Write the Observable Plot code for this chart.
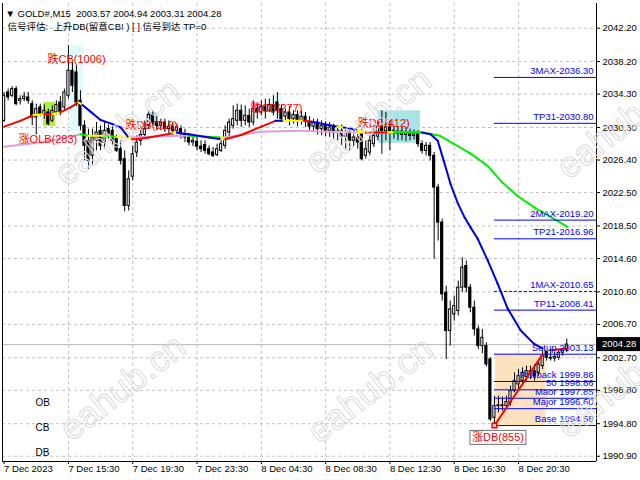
<!DOCTYPE html>
<html><head><meta charset="utf-8">
<script src="https://cdn.jsdelivr.net/npm/d3@7"></script>
<script src="https://cdn.jsdelivr.net/npm/@observablehq/plot@0.6"></script>
<style>
body{margin:0;background:#fff;}
#chart{position:relative;width:640px;height:480px;overflow:hidden;}
</style></head><body><div id="chart"></div>
<script>
// ---------- DATA (GOLD#, M15 bars, index 0 = 7 Dec 11:30) ----------
const opens=[2031.1,2034.5,2034.1,2034.9,2033.5,2033.7,2033.9,2033.1,2031.5,2032.7,
2031.9,2032.1,2031.1,2032.1,2033.3,2032.7,2034.1,2037.1,2036.9,2033.5,
2030.5,2028.7,2026.9,2028.7,2029.9,2028.5,2030.1,2029.9,2028.9,2027.7,
2026.5,2020.9,2024.4,2027.3,2028.7,2029.4,2030.5,2031.8,2030.9,2030.5,
2030.9,2030.1,2030.4,2029.9,2030.1,2029.5,2029.1,2028.5,2028.6,2028.0,
2028.2,2027.7,2027.3,2027.0,2027.5,2028.1,2029.7,2030.5,2031.1,2032.3,
2031.1,2031.7,2030.9,2032.5,2032.1,2032.8,2032.3,2033.0,2033.3,2032.5,
2031.6,2032.1,2031.3,2031.8,2031.1,2031.6,2031.0,2030.4,2030.9,2030.1,
2030.5,2029.9,2030.3,2029.7,2029.9,2029.2,2029.7,2028.7,2029.1,2029.5,
2026.9,2027.3,2028.3,2029.2,2030.4,2029.9,2030.3,2029.7,2029.5,2029.8,
2029.4,2029.7,2029.3,2029.5,2028.3,2027.5,2028.1,2026.9,2023.1,2018.9,
2010.5,2005.9,2007.9,2008.3,2011.1,2013.7,2011.1,2008.7,2006.1,2004.1,
2004.1,2002.5,1995.5,1996.9,1997.0,1996.9,1997.3,1998.7,1999.5,1999.9,
2000.4,2000.9,2001.1,2000.9,2001.7,2003.5,2002.7,2002.6,2002.7,2003.3,
2003.57];
const highs=[2034.5,2034.9,2035.2,2035.2,2034.1,2034.5,2034.5,2033.5,2033.1,2033.1,
2033.0,2032.5,2032.9,2033.5,2034.0,2034.9,2040.1,2038.1,2037.7,2034.7,
2031.1,2030.1,2030.1,2030.9,2030.5,2030.9,2030.6,2030.4,2029.4,2028.7,
2027.5,2025.1,2028.1,2029.3,2030.5,2031.1,2032.3,2032.3,2031.7,2031.3,
2031.3,2031.1,2030.9,2030.7,2030.5,2030.1,2029.5,2029.1,2029.2,2028.7,
2028.7,2028.1,2027.9,2028.3,2028.7,2030.5,2031.3,2032.9,2033.1,2033.0,
2032.9,2032.5,2033.5,2033.1,2033.5,2033.7,2033.7,2034.1,2034.5,2033.0,
2032.5,2032.8,2032.3,2032.3,2032.3,2032.1,2031.6,2031.3,2031.3,2031.1,
2031.0,2030.9,2030.7,2030.5,2030.6,2030.3,2030.1,2029.9,2029.9,2030.1,
2028.7,2029.3,2030.5,2031.1,2032.3,2032.1,2031.1,2030.5,2030.4,2030.4,
2030.3,2030.1,2030.0,2029.9,2028.7,2028.5,2028.5,2027.3,2023.5,2019.3,
2011.3,2009.5,2010.1,2011.9,2014.7,2014.3,2011.5,2009.5,2006.5,2006.1,
2004.5,2002.7,1998.1,1998.1,1998.0,1998.1,1999.3,2000.9,2001.3,2001.5,
2001.7,2001.7,2001.9,2002.4,2003.5,2003.7,2003.5,2003.4,2003.6,2003.8,
2004.94];
const lows=[2030.9,2033.5,2033.9,2032.9,2033.0,2033.4,2033.1,2030.5,2029.4,2031.6,
2031.3,2030.5,2030.9,2031.8,2031.7,2032.3,2033.7,2034.5,2032.8,2029.9,
2026.3,2025.3,2025.7,2027.5,2027.5,2027.7,2028.9,2028.1,2027.3,2025.8,
2020.2,2020.3,2023.9,2026.7,2028.1,2029.1,2030.1,2030.5,2029.9,2029.9,
2029.7,2029.5,2029.3,2029.4,2028.9,2028.5,2028.1,2028.0,2027.5,2027.3,
2027.1,2026.9,2026.7,2026.8,2027.3,2027.7,2028.9,2030.1,2030.5,2030.3,
2030.5,2030.3,2030.5,2031.3,2031.7,2031.3,2032.1,2031.7,2031.3,2030.9,
2031.1,2030.5,2030.7,2030.4,2030.6,2030.3,2029.9,2029.7,2029.4,2029.3,
2029.2,2029.1,2028.9,2028.7,2028.1,2027.7,2027.5,2028.0,2027.7,2026.3,
2026.5,2026.9,2027.9,2028.7,2027.1,2028.7,2027.5,2028.9,2028.7,2028.7,
2028.6,2028.7,2028.8,2027.9,2027.1,2026.9,2026.3,2014.5,2016.7,2009.5,
2002.5,2004.1,2007.1,2007.7,2010.5,2010.5,2008.1,2005.3,2003.7,2003.2,
2001.6,1995.1,1994.58,1996.1,1996.3,1996.5,1996.9,1998.5,1998.9,1999.3,
1999.9,2000.1,1999.9,2000.5,2001.3,2002.3,2002.3,2002.2,2002.4,2002.9,
2003.31];
const closes=[2034.1,2033.9,2034.9,2033.1,2033.7,2034.0,2033.5,2031.5,2032.5,2031.9,
2032.3,2030.7,2032.3,2033.0,2032.1,2034.5,2037.1,2035.3,2033.3,2030.5,
2028.1,2026.3,2029.1,2029.7,2028.1,2029.9,2029.5,2028.7,2027.5,2026.3,
2020.9,2024.1,2027.1,2028.5,2029.4,2030.1,2031.8,2030.9,2030.5,2030.9,
2030.1,2030.4,2029.9,2030.3,2029.5,2029.1,2028.5,2028.7,2028.0,2027.7,
2027.5,2027.1,2026.9,2027.7,2028.3,2029.9,2030.9,2031.3,2032.3,2031.1,
2031.7,2030.9,2032.5,2032.1,2032.8,2032.3,2033.0,2032.1,2032.3,2031.3,
2032.1,2031.3,2031.8,2031.1,2031.6,2031.0,2030.4,2030.9,2030.1,2030.5,
2029.9,2030.3,2029.7,2029.9,2029.2,2029.7,2028.7,2029.1,2028.5,2026.5,
2027.7,2028.7,2029.3,2030.4,2029.9,2030.3,2029.7,2029.9,2029.8,2029.4,
2029.7,2029.3,2029.5,2028.3,2027.5,2028.1,2026.9,2023.1,2018.9,2010.3,
2005.9,2008.5,2008.9,2011.1,2013.5,2011.1,2008.7,2006.1,2004.1,2005.1,
2001.9,1995.3,1996.9,1997.0,1996.9,1997.4,1998.7,1999.9,2000.5,2000.9,
2001.1,2001.1,2000.5,2001.9,2002.9,2002.7,2002.6,2002.8,2003.3,2003.6,
2004.28];

// fast moving average (bar index, value, colour of the segment that starts there)
const fastK=[0,4,7.3,10,12,14,16.5,18.5,19.5,21.5,24,27,29,31,31.8,33,36,42,43,44,46,51,54,55,59,64,67.5,69.5,74.5,76.5,83,84.5,88,90,95.5,97,104,106.1,107.9,109.4,111.1,112.9,114.6,116.1,117.8,120.3,122.8,125.3,128.5,131.8,134.3,135.8,140.2];
const fastV=[2030.4,2031.1,2031.8,2031.9,2031.9,2032.1,2032.7,2033.3,2033.0,2032.2,2031.2,2030.7,2030.3,2029.1,2028.9,2028.9,2029.1,2029.6,2029.7,2029.6,2029.5,2029.1,2028.9,2028.9,2029.4,2030.4,2031.1,2031.1,2031.1,2031.0,2030.4,2030.3,2030.0,2029.7,2029.7,2029.8,2029.7,2029.5,2028.7,2026.3,2023.5,2021.2,2019.5,2018.3,2017.0,2014.4,2011.6,2008.6,2006.0,2004.4,2003.7,2003.6,2003.8];
const fastC=["red","red","yellow","red","yellow","red","red","yellow","#0000e0","#0000e0",
"#0000e0","#0000e0","#0000e0","yellow","red","red","red","yellow","#0000e0","#0000e0",
"#0000e0","#0000e0","yellow","red","red","red","#0000e0","yellow","red","#0000e0",
"yellow","#0000e0","yellow","red","yellow","#00ee00","#0000e0","#0000e0","#0000e0","#0000e0",
"#0000e0","#0000e0","#0000e0","#0000e0","#0000e0","#0000e0","#0000e0","#0000e0","#0000e0","#0000e0",
"yellow","red","red"];
// slow moving average
const slowK=[0,9,15.8,19,21,25,28,31,36.5,44,46,54,55,64,74,81,88,91,95.5,104,108.5,112,116,120.3,124,128,132.3,136.3,140.2];
const slowV=[2028.0,2028.5,2029.1,2029.5,2029.3,2029.3,2029.2,2029.1,2029.2,2029.3,2029.3,2029.1,2029.1,2029.8,2029.9,2029.8,2029.7,2029.7,2029.7,2029.7,2029.3,2028.3,2027.2,2025.7,2023.7,2022.0,2020.6,2019.5,2018.4];
const slowC=["plum","plum","plum","#00ee00","yellow","#00ee00","yellow","plum","plum","plum",
"#00ee00","yellow","plum","plum","plum","plum","yellow","plum","#00ee00","#00ee00",
"#00ee00","#00ee00","#00ee00","#00ee00","#00ee00","#00ee00","#00ee00","#00ee00","#00ee00"];

// target / retracement levels
const levelLabels=["3MAX-2036.30","TP31-2030.80","2MAX-2019.20","TP21-2016.96","1MAX-2010.65","TP11-2008.41","Setup 2003.13","Pullback 1999.86","50 1998.86","Maor 1997.85","Major 1996.60","Base 1994.58"];
const levelPrices=[2036.30,2030.80,2019.20,2016.96,2010.65,2008.41,2003.13,1999.86,1998.86,1997.85,1996.60,1994.58];
const levelDashed=[false,false,false,false,true,false,false,false,false,false,false,false];
const levelStartBar=122;

// signal zones (bar range, price range, colour)
const zoneK1=[9.8,16.5,35.7,67,93.2,122.3];
const zoneK2=[12.8,19.8,38.2,69.3,103.6,134.8];
const zoneV1=[2033.3,2040.1,2032.1,2034.1,2032.3,2003.13];
const zoneV2=[2030.4,2029.8,2030.5,2031.4,2028.4,1994.58];
const zoneFill=["#b0ee42","#e0fafd","#a6e0e6","#e0fafd","#a8e3e8","#fde2bd"];

// signal labels
const sigText=["跌CB(1006)","涨OLB(283)","跌DB(216)","跌CB(277)","跌DB(412)"];
const sigK=[10.8,3.6,30.2,61.3,88];
const sigV=[2038.4,2028.9,2030.5,2032.6,2030.8];
const dbText="涨DB(855)", dbK=123.0, dbV=1993.1;
const zigK=[122,134], zigV=[1994.58,2003.13];

const zoneText=["OB","CB","DB"];
const zoneTextK=7.8;
const zoneTextV=[1997.28,1994.28,1991.3];

const priceTicks=[2042.20,2038.20,2034.30,2030.30,2026.40,2022.50,2018.50,2014.60,2010.60,2006.70,2002.70,1998.80,1994.80,1990.90];
const timeTickBars=[0,16,32,48,64,80,96,112,128];
const timeTickLabels=["7 Dec 2023","7 Dec 15:30","7 Dec 19:30","7 Dec 23:30","8 Dec 04:30","8 Dec 08:30","8 Dec 12:30","8 Dec 16:30","8 Dec 20:30"];
const lastPrice=2004.28;
const header1="▼ GOLD#,M15\u00a0\u00a02003.57 2004.94 2003.31 2004.28";
const header2="信号评估:\u00a0\u00a0上升DB(留意CB!\u00a0) [ ] 信号到达 TP=0";

const wmK=[28.2,90.7,153.2,29.5,91.2,153.2];
const wmV=[2029.7,2031.1,2030.5,1999.1,1998.8,1999.4];

// ---------- BUILD ----------
const xDomain=[-0.4,147.4];
const yDomain=[1990.27,2045.16];
const FONT="'Liberation Sans','Noto Sans CJK SC',sans-serif";

const candles=opens.map((o,i)=>({k:i,open:o,high:highs[i],low:lows[i],close:closes[i]}));
function segs(ks,vs,cs){const out=[];for(let i=0;i<ks.length-1;i++)out.push({k1:ks[i],v1:vs[i],k2:ks[i+1],v2:vs[i+1],c:cs[i]});return out;}
const fastSegs=segs(fastK,fastV,fastC);
const slowSegs=segs(slowK,slowV,slowC);
const levels=levelLabels.map((l,i)=>({label:l,price:levelPrices[i],dashed:levelDashed[i]}));
const zones=zoneK1.map((k,i)=>({k1:k,k2:zoneK2[i],v1:zoneV1[i],v2:zoneV2[i],fill:zoneFill[i]}));
const sigs=sigText.map((t,i)=>({t,k:sigK[i],v:sigV[i]}));
const zl=zoneText.map((t,i)=>({t,k:zoneTextK,v:zoneTextV[i]}));
const wms=wmK.map((k,i)=>({k,v:wmV[i]}));
const tickLabel=new Map(timeTickBars.map((b,i)=>[b,timeTickLabels[i]]));

const chart=Plot.plot({
  width:640,height:480,
  marginLeft:2,marginRight:44,marginTop:3,marginBottom:19,
  x:{domain:xDomain,label:null},
  y:{domain:yDomain,label:null},
  color:{type:"identity"},
  style:{fontFamily:FONT,fontSize:"9.5px",background:"white",overflow:"visible"},
  marks:[
    Plot.ruleY(priceTicks,{stroke:"#c0c0c0",strokeDasharray:"3,3"}),
    Plot.ruleX(timeTickBars.slice(1),{stroke:"#c0c0c0",strokeDasharray:"3,3"}),
    Plot.rect(zones,{x1:"k1",x2:"k2",y1:"v1",y2:"v2",fill:"fill"}),
    Plot.ruleY([lastPrice],{stroke:"#b8b8b8"}),
    Plot.ruleX(candles,{x:"k",y1:"low",y2:"high",stroke:"black"}),
    Plot.rect(candles,{x1:d=>d.k-0.27,x2:d=>d.k+0.27,y1:"open",y2:"close",
      fill:d=>d.close>=d.open?"white":"black",stroke:"black",strokeWidth:1}),
    Plot.link(slowSegs,{x1:"k1",y1:"v1",x2:"k2",y2:"v2",stroke:"c",strokeWidth:2,strokeLinecap:"round"}),
    Plot.link(fastSegs,{x1:"k1",y1:"v1",x2:"k2",y2:"v2",stroke:"c",strokeWidth:2,strokeLinecap:"round"}),
    Plot.ruleY(levels.filter(d=>!d.dashed),{y:"price",x1:levelStartBar,x2:xDomain[1],stroke:"#0000ff"}),
    Plot.ruleY(levels.filter(d=>d.dashed),{y:"price",x1:levelStartBar,x2:xDomain[1],stroke:"#0000ff",strokeDasharray:"3,2"}),
    Plot.text(levels,{x:xDomain[1],y:"price",text:"label",textAnchor:"end",dx:-3,dy:-6.5,fill:"#0000ff",fontSize:9.5}),
    Plot.link([0],{x1:()=>zigK[0],y1:()=>zigV[0],x2:()=>zigK[1],y2:()=>zigV[1],stroke:"red",strokeWidth:2}),
    Plot.dot([0],{x:()=>zigK[0],y:()=>zigV[0],symbol:"square",r:2.6,stroke:"red",fill:"#ffd0d0",strokeWidth:1.5}),
    Plot.text(sigs,{x:"k",y:"v",text:"t",textAnchor:"start",fill:"red",fontSize:11}),
    Plot.text(zl,{x:"k",y:"v",text:"t",textAnchor:"start",fill:"black",fontSize:10}),
    Plot.text([header1],{frameAnchor:"top-left",dx:3,dy:7,text:d=>d,textAnchor:"start",fill:"black",fontSize:9.5}),
    Plot.text([header2],{frameAnchor:"top-left",dx:5,dy:20,text:d=>d,textAnchor:"start",fill:"black",fontSize:9.5}),
    Plot.axisY({anchor:"right",ticks:priceTicks,tickFormat:d=>d.toFixed(2),tickSize:3,tickPadding:3,fontSize:9.5,label:null}),
    Plot.axisX({anchor:"bottom",ticks:timeTickBars,tickFormat:d=>tickLabel.get(d),textAnchor:"start",tickSize:3,tickPadding:1,fontSize:9.5,label:null}),
    Plot.ruleX([xDomain[0],xDomain[1]],{stroke:"black"}),
    Plot.ruleY([yDomain[0]],{stroke:"black"}),
    Plot.text(wms,{x:"k",y:"v",text:()=>"eahub.cn",rotate:-38,fontSize:36,fill:"none",stroke:"#dcdcdc",strokeWidth:1,fontFamily:"'Liberation Sans',sans-serif"})
  ]
});
document.getElementById("chart").append(chart);

// boxed DB label and price tag on the right scale
const ns="http://www.w3.org/2000/svg";
const xs=chart.scale("x"), ys=chart.scale("y");
function el(name,attrs,txt){const e=document.createElementNS(ns,name);for(const a in attrs)e.setAttribute(a,attrs[a]);if(txt!=null)e.textContent=txt;return e;}
const g=el("g",{"text-anchor":"start","font-family":"Liberation Sans, Noto Sans CJK SC, sans-serif"});
// DB label with frame
const dbx=xs.apply(dbK), dby=ys.apply(dbV);
const dbT=el("text",{x:dbx,y:dby,dy:"0.35em","text-anchor":"middle",fill:"red","font-size":"11"},dbText);
g.append(dbT);
chart.append(g);
let w=50;try{w=dbT.getComputedTextLength()||50;}catch(e){}
const dbR=el("rect",{x:dbx-w/2-2,y:dby-7,width:w+4,height:14,fill:"white",stroke:"#707070"});
g.insertBefore(dbR,dbT);
// last price tag
const yy=ys.apply(lastPrice);
g.append(el("rect",{x:640-44+1,y:yy-7,width:43,height:14,fill:"black"}));
g.append(el("text",{x:640-44+6,y:yy,dy:"0.35em",fill:"white","font-size":"9.5","text-anchor":"start"},lastPrice.toFixed(2)));
</script></body></html>
